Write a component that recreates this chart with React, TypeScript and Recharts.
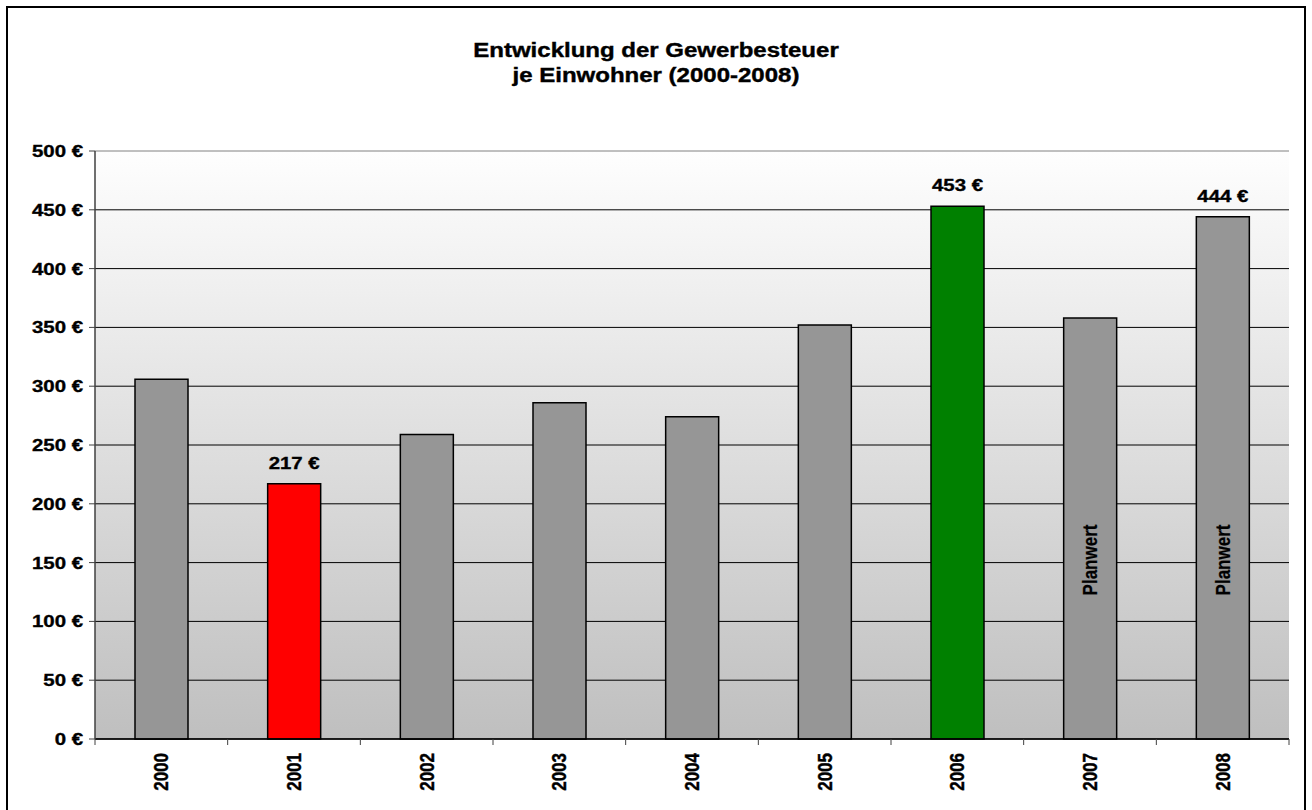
import React from 'react';
import { BarChart, Bar, XAxis, YAxis, CartesianGrid, Cell, LabelList } from 'recharts';

const years = ['2000', '2001', '2002', '2003', '2004', '2005', '2006', '2007', '2008'];
const taxPerResident = [306, 217, 259, 286, 274, 352, 453, 358, 444];
const barColors = ['#969696', '#ff0000', '#969696', '#969696', '#969696', '#969696', '#008000', '#969696', '#969696'];
const valueLabels = ['', '217 €', '', '', '', '', '453 €', '', '444 €'];
const notes = ['', '', '', '', '', '', '', 'Planwert', 'Planwert'];
const yTicks = [0, 50, 100, 150, 200, 250, 300, 350, 400, 450, 500];

const data = years.map((year, i) => ({
  year,
  value: taxPerResident[i],
  label: valueLabels[i],
  note: notes[i],
}));

const font = '"Liberation Sans", Arial, sans-serif';
// the reference is stretched horizontally a bit
const stretch = 1.2;

// shared text style, a thin stroke makes it as heavy as the original
const textProps = {
  fontFamily: font,
  fontWeight: 'bold' as const,
  fontSize: 17,
  fill: '#000',
  stroke: '#000',
  strokeWidth: 0.35,
};

const YTick = ({ x, y, payload }: any) => (
  <text
    transform={`translate(${x},${y}) scale(${stretch},1)`}
    textAnchor="end"
    dy="0.35em"
    {...textProps}
  >
    {`${payload.value} €`}
  </text>
);

const XTick = ({ x, y, payload, index }: any) => {
  const half = payload.offset || 66;
  const axisY = y - 14;
  return (
    <g>
      <line x1={x - half} x2={x - half} y1={axisY} y2={axisY + 6} stroke="#404040" />
      {index === years.length - 1 && (
        <line x1={x + half} x2={x + half} y1={axisY} y2={axisY + 6} stroke="#404040" />
      )}
      <text
        transform={`translate(${x},${y}) scale(${stretch},1) rotate(-90)`}
        textAnchor="end"
        dy="0.35em"
        {...textProps}
      >
        {payload.value}
      </text>
    </g>
  );
};

const ValueLabel = ({ x, y, width, index }: any) => {
  const text = valueLabels[index];
  if (!text) return null;
  return (
    <text
      transform={`translate(${x + width / 2},${y - 15}) scale(${stretch},1)`}
      textAnchor="middle"
      {...textProps}
    >
      {text}
    </text>
  );
};

const NoteLabel = ({ x, y, width, height, index }: any) => {
  const text = notes[index];
  if (!text) return null;
  return (
    <text
      transform={`translate(${x + width / 2},${y + height - 179}) scale(${stretch},1) rotate(-90)`}
      textAnchor="middle"
      dy="0.35em"
      {...textProps}
      strokeWidth={0.2}
    >
      {text}
    </text>
  );
};

const GridLine = (props: any) => {
  const isTop = Math.abs(props.y1 - props.y) < 1;
  return (
    <line
      x1={props.x1}
      x2={props.x2}
      y1={props.y1}
      y2={props.y2}
      stroke={isTop ? '#808080' : '#000'}
      strokeWidth={1}
    />
  );
};

export default function App() {
  return (
    <div
      style={{
        position: 'absolute',
        left: 6,
        top: 6,
        width: 1300,
        height: 812,
        border: '2px solid #000',
        boxSizing: 'border-box',
        background: '#fff',
      }}
    >
      <div
        style={{
          position: 'absolute',
          left: 0,
          top: 30,
          width: 1296,
          textAlign: 'center',
          fontFamily: font,
          fontWeight: 'bold',
          fontSize: 20,
          lineHeight: '25px',
          color: '#000',
          WebkitTextStroke: '0.4px #000',
          transform: `scaleX(${stretch})`,
        }}
      >
        Entwicklung der Gewerbesteuer
        <br />
        je Einwohner (2000-2008)
      </div>
      <BarChart
        width={1296}
        height={800}
        data={data}
        margin={{ top: 143, right: 15, bottom: 0, left: 0 }}
      >
        <defs>
          <linearGradient id="plotBg" x1="0" y1="0" x2="0" y2="1">
            <stop offset="0%" stopColor="#fefefe" />
            <stop offset="100%" stopColor="#bfbfbf" />
          </linearGradient>
        </defs>
        <CartesianGrid
          vertical={false}
          horizontal={GridLine}
          fill="url(#plotBg)"
          fillOpacity={1}
        />
        <XAxis
          dataKey="year"
          height={69}
          interval={0}
          tickSize={6}
          tickMargin={8}
          tickLine={false}
          axisLine={{ stroke: '#000', strokeWidth: 1.5 }}
          tick={<XTick />}
        />
        <YAxis
          width={87}
          domain={[0, 500]}
          ticks={yTicks}
          interval={0}
          tickSize={6}
          tickMargin={6}
          tickLine={{ stroke: '#404040' }}
          axisLine={{ stroke: '#404040', strokeWidth: 1.5 }}
          tick={<YTick />}
        />
        <Bar
          dataKey="value"
          barSize={53}
          stroke="#000"
          strokeWidth={1.5}
          isAnimationActive={false}
        >
          {data.map((d, i) => (
            <Cell key={d.year} fill={barColors[i]} />
          ))}
          <LabelList dataKey="label" content={<ValueLabel />} />
          <LabelList dataKey="note" content={<NoteLabel />} />
        </Bar>
      </BarChart>
    </div>
  );
}
